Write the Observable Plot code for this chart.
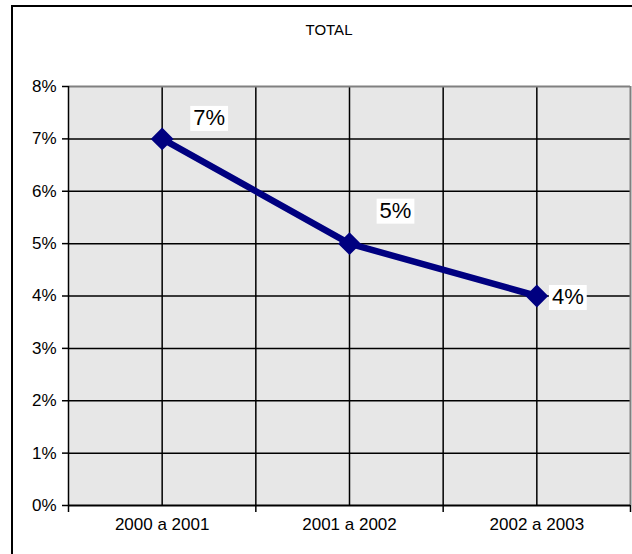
<!DOCTYPE html>
<html>
<head>
<meta charset="utf-8">
<script src="https://cdn.jsdelivr.net/npm/d3@7"></script>
<script src="https://cdn.jsdelivr.net/npm/@observablehq/plot@0.6"></script>
<style>
  html, body { margin: 0; padding: 0; background: #fff; overflow: hidden; width: 632px; height: 554px; }
  #wrap { position: relative; width: 632px; height: 554px; font-family: "Liberation Sans", Arial, sans-serif; }
  #border { position: absolute; left: 11px; top: 5px; width: 660px; height: 600px; border: 2px solid #000; box-sizing: border-box; }
  #title { position: absolute; top: 21px; left: 229px; width: 200px; text-align: center; font-size: 15px; color: #000; }
  #chart { position: absolute; left: 0; top: 0; }
</style>
</head>
<body>
<div id="wrap">
  <div id="border"></div>
  <div id="chart"></div>
  <div id="title">TOTAL</div>
</div>
<script>
const categories = ["2000 a 2001", "2001 a 2002", "2002 a 2003"];
const values = [0.07, 0.05, 0.04];
const labels = ["7%", "5%", "4%"];
const yTicks = [0, 0.01, 0.02, 0.03, 0.04, 0.05, 0.06, 0.07, 0.08];
const xBounds = [0, 1, 2, 3];
const xGrid = [0, 0.5, 1, 1.5, 2, 2.5, 3];

const data = categories.map((c, i) => ({pos: i + 0.5, cat: c, value: values[i], label: labels[i]}));
const navy = "#000080";
const LABEL_INK = "#010101";

function labelMark(i, dx, dy) {
  return Plot.text([data[i]], {x: "pos", y: "value", text: "label", dx, dy, fontSize: 22, fill: LABEL_INK});
}

const plot = Plot.plot({
  width: 632,
  height: 554,
  marginLeft: 68,
  marginRight: 2,
  marginTop: 86,
  marginBottom: 49,
  style: {fontFamily: "Liberation Sans, Arial, sans-serif", fontSize: "17px", color: "#000", background: "transparent"},
  x: {type: "linear", domain: [0, 3]},
  y: {domain: [0, 0.08]},
  marks: [
    Plot.frame({fill: "url(#dotpat)", stroke: "none"}),
    Plot.ruleY(yTicks.filter(v => v > 0 && v < 0.08), {stroke: "#000", strokeWidth: 1.5}),
    Plot.ruleX(xGrid.filter(v => v > 0 && v < 3), {stroke: "#000", strokeWidth: 1.5}),
    Plot.ruleY([0.08], {stroke: "#808080", strokeWidth: 2}),
    Plot.ruleX([3], {stroke: "#808080", strokeWidth: 2}),
    Plot.ruleY([0], {stroke: "#000", strokeWidth: 2}),
    Plot.ruleX([0], {stroke: "#000", strokeWidth: 1.5}),
    Plot.axisY(yTicks, {tickFormat: d3.format(".0%"), tickSize: 6, tickPadding: 6, strokeWidth: 1.5, label: null, fontSize: 17}),
    Plot.axisX(xBounds, {tickSize: 7, tickFormat: () => "", strokeWidth: 1.5, label: null}),
    Plot.axisX(data.map(d => d.pos), {tickSize: 0, tickPadding: 12, tickFormat: p => categories[Math.floor(p)], label: null, fontSize: 17}),
    Plot.line(data, {x: "pos", y: "value", stroke: navy, strokeWidth: 6.5, strokeLinejoin: "round"}),
    Plot.dot(data, {x: "pos", y: "value", symbol: "diamond2", r: 9, fill: navy, stroke: navy, strokeWidth: 2}),
    labelMark(0, 47, -21),
    labelMark(1, 46, -33),
    labelMark(2, 31, 1)
  ]
});

document.getElementById("chart").appendChild(plot);

// dotted background pattern
const ns = "http://www.w3.org/2000/svg";
const defs = document.createElementNS(ns, "defs");
defs.innerHTML = `<pattern id="dotpat" patternUnits="userSpaceOnUse" width="2" height="2">
  <rect width="2" height="2" fill="#fbfbfb"/>
  <rect x="0" y="0" width="1" height="1" fill="#b4b4b4"/>
  <rect x="1" y="1" width="1" height="1" fill="#f0f0f0"/>
</pattern>`;
plot.insertBefore(defs, plot.firstChild);

// white boxes behind data labels
plot.querySelectorAll("text").forEach(t => {
  const fillAttr = (t.getAttribute("fill") || (t.parentNode.getAttribute && t.parentNode.getAttribute("fill")) || "").toLowerCase();
  if (fillAttr !== LABEL_INK) return;
  const b = t.getBBox();
  const r = document.createElementNS(ns, "rect");
  r.setAttribute("x", b.x - 3);
  r.setAttribute("y", b.y + 1);
  r.setAttribute("width", b.width + 6);
  r.setAttribute("height", b.height);
  r.setAttribute("fill", "#fff");
  r.setAttribute("stroke", "none");
  const tr = t.getAttribute("transform");
  if (tr) r.setAttribute("transform", tr);
  t.parentNode.insertBefore(r, t);
});
</script>
</body>
</html>
